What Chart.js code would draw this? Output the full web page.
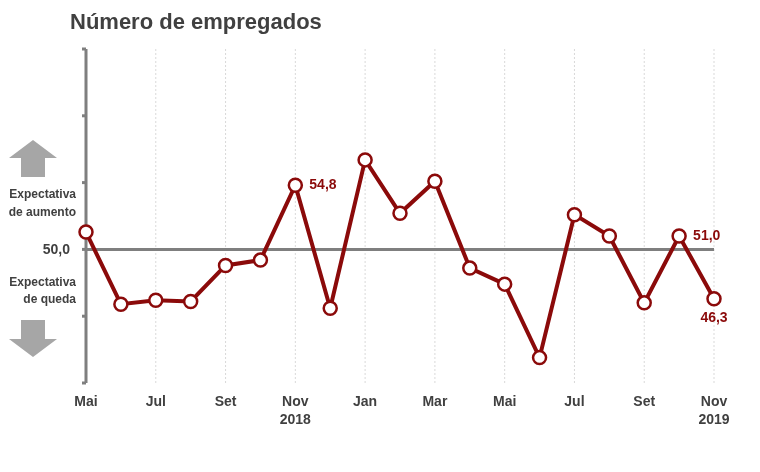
<!DOCTYPE html>
<html><head><meta charset="utf-8">
<script src="https://cdn.jsdelivr.net/npm/chart.js@4"></script>
<style>html,body{margin:0;padding:0;background:#fff}#w{width:760px;height:472px}</style>
</head><body><div id="w"><canvas id="c" width="760" height="472"></canvas></div>
<script>
const months = ["Mai","Jun","Jul","Ago","Set","Out","Nov","Dez","Jan","Fev","Mar","Abr","Mai","Jun","Jul","Ago","Set","Out","Nov"];
const tickLabels = ["Mai","","Jul","","Set","","Nov\n2018","","Jan","","Mar","","Mai","","Jul","","Set","","Nov\n2019"];
const values = [51.3,45.9,46.2,46.1,48.8,49.2,54.8,45.6,56.7,52.7,55.1,48.6,47.4,41.9,52.6,51.0,46.0,51.0,46.3];
const yTicks = [40,45,50,55,60,65];
const labeled = {6:["54,8","right"],17:["51,0","right"],18:["46,3","below"]};
const red = "#8B0A0A";
const deco = {
  id:"deco",
  beforeDatasetsDraw(ch){
    const c=ch.ctx,x=ch.scales.x,y=ch.scales.y,a=ch.chartArea;
    c.save();
    // vertical dotted grid
    c.strokeStyle="#d9d9d9";c.lineWidth=1;c.setLineDash([2,2]);
    tickLabels.forEach((t,i)=>{if(t&&i>0){const px=x.getPixelForValue(i);c.beginPath();c.moveTo(px,y.getPixelForValue(65));c.lineTo(px,a.bottom);c.stroke();}});
    c.setLineDash([]);
    // y axis
    c.strokeStyle="#7f7f7f";c.lineWidth=3;
    c.beginPath();c.moveTo(a.left,y.getPixelForValue(65));c.lineTo(a.left,a.bottom);c.stroke();
    yTicks.forEach(v=>{const py=y.getPixelForValue(v);c.beginPath();c.moveTo(a.left-4,py);c.lineTo(a.left,py);c.stroke();});
    // 50 line
    c.beginPath();c.moveTo(a.left,y.getPixelForValue(50));c.lineTo(a.right,y.getPixelForValue(50));c.stroke();
    // x labels
    c.fillStyle="#404040";c.font="bold 14px Arial, 'Liberation Sans'";c.textAlign="center";c.textBaseline="top";
    tickLabels.forEach((t,i)=>{if(!t)return;const px=x.getPixelForValue(i);t.split("\n").forEach((s,k)=>c.fillText(s,px,a.bottom+12+k*18));});
    // left annotations
    c.fillStyle="#a6a6a6";
    const arrow=(cx,top,up)=>{c.beginPath();if(up){c.moveTo(cx,top);c.lineTo(cx+24,top+18);c.lineTo(cx+12,top+18);c.lineTo(cx+12,top+37);c.lineTo(cx-12,top+37);c.lineTo(cx-12,top+18);c.lineTo(cx-24,top+18);}else{c.moveTo(cx-12,top);c.lineTo(cx+12,top);c.lineTo(cx+12,top+19);c.lineTo(cx+24,top+19);c.lineTo(cx,top+37);c.lineTo(cx-24,top+19);c.lineTo(cx-12,top+19);}c.closePath();c.fill();};
    arrow(33,140,true);arrow(33,320,false);
    c.fillStyle="#404040";c.textAlign="right";c.textBaseline="middle";
    c.font="bold 12px Arial, 'Liberation Sans'";
    c.fillText("Expectativa",76,195);c.fillText("de aumento",76,213);
    c.fillText("Expectativa",76,283);c.fillText("de queda",76,300);
    c.font="bold 14px Arial, 'Liberation Sans'";c.fillText("50,0",70,250);
    c.restore();
  },
  afterDatasetsDraw(ch){
    const c=ch.ctx,x=ch.scales.x,y=ch.scales.y;
    c.save();c.fillStyle=red;c.font="bold 14px Arial, 'Liberation Sans'";
    Object.keys(labeled).forEach(k=>{const i=+k,[t,p]=labeled[k];const px=x.getPixelForValue(i),py=y.getPixelForValue(values[i]);
      if(p==="right"){c.textAlign="left";c.textBaseline="middle";c.fillText(t,px+14,py);}else{c.textAlign="center";c.textBaseline="top";c.fillText(t,px,py+12);}});
    c.fillStyle="#404040";c.font="bold 22px Arial, 'Liberation Sans'";c.textAlign="left";c.textBaseline="middle";
    c.fillText("Número de empregados",70,23);
    c.restore();
  }
};
new Chart(document.getElementById("c"),{
  type:"line",
  data:{labels:months,datasets:[{data:values,borderColor:red,borderWidth:4,pointRadius:6.5,pointBorderWidth:2.5,pointBackgroundColor:"#fff",pointBorderColor:red,tension:0,clip:false}]},
  options:{responsive:false,animation:false,devicePixelRatio:1,
    layout:{padding:{left:86,right:46,top:49,bottom:89}},
    plugins:{legend:{display:false},tooltip:{enabled:false}},
    scales:{x:{display:false,offset:false},y:{display:false,min:40,max:65}}},
  plugins:[deco]
});
</script></body></html>
